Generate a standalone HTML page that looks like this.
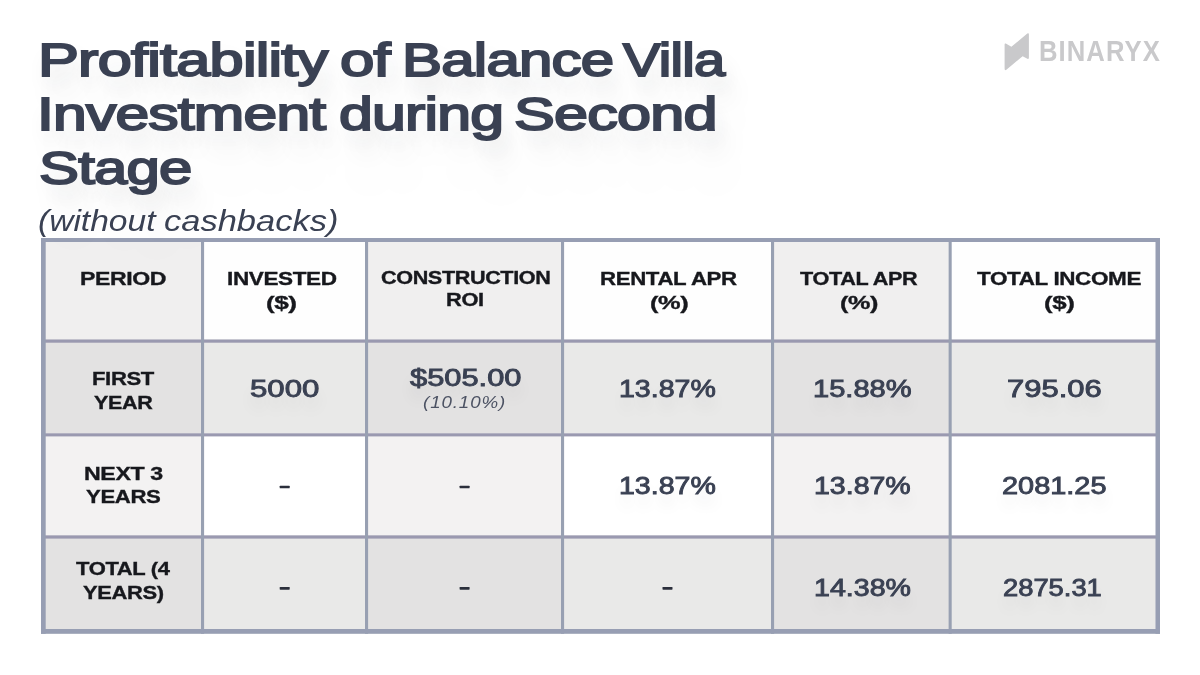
<!DOCTYPE html>
<html lang="en"><head><meta charset="utf-8">
<title>Profitability of Balance Villa Investment during Second Stage</title>
<style>
html,body{margin:0;padding:0;}
body{width:1200px;height:675px;overflow:hidden;background:#fff;position:relative;font-family:"Liberation Sans",sans-serif;}
#txt{position:absolute;left:0;top:0;width:1200px;height:675px;will-change:transform;}
#tbl{position:absolute;left:0;top:0;}
.c{position:absolute;}
.l{position:absolute;}
.t{position:absolute;white-space:nowrap;line-height:1;transform-origin:0 0;margin:0;padding:0;}
.ttl{text-shadow:4px 13px 18px rgba(40,45,60,0.10),8px 28px 24px rgba(40,45,60,0.09),10px 55px 35px rgba(40,45,60,0.055);-webkit-text-stroke:1.9px #3a4153;}
.sub{}
.hdr{-webkit-text-stroke:0.35px #17181d;}
.dat{-webkit-text-stroke:0.9px #3a4153;text-shadow:0 12px 14px rgba(40,45,60,0.09),0 50px 30px rgba(40,45,60,0.035);}
.sm{}
.logo{}
.d{position:absolute;background:#2b2f3b;height:2.7px;width:10px;border-radius:0.6px;}

</style></head>
<body>
<!-- table: cells, grid lines, outer border -->
<svg id="tbl" width="1200" height="675" viewBox="0 0 1200 675">
<rect x="41.00" y="238.00" width="163.10" height="104.70" fill="#f0efef"/>
<rect x="201.00" y="238.00" width="167.10" height="104.70" fill="#fefefe"/>
<rect x="365.00" y="238.00" width="199.10" height="104.70" fill="#f0efef"/>
<rect x="561.00" y="238.00" width="213.10" height="104.70" fill="#fefefe"/>
<rect x="771.00" y="238.00" width="180.70" height="104.70" fill="#f0efef"/>
<rect x="948.60" y="238.00" width="211.40" height="104.70" fill="#fefefe"/>
<rect x="41.00" y="339.50" width="163.10" height="96.90" fill="#e3e2e2"/>
<rect x="201.00" y="339.50" width="167.10" height="96.90" fill="#e9e9e8"/>
<rect x="365.00" y="339.50" width="199.10" height="96.90" fill="#e3e2e2"/>
<rect x="561.00" y="339.50" width="213.10" height="96.90" fill="#e9e9e8"/>
<rect x="771.00" y="339.50" width="180.70" height="96.90" fill="#e3e2e2"/>
<rect x="948.60" y="339.50" width="211.40" height="96.90" fill="#e9e9e8"/>
<rect x="41.00" y="433.30" width="163.10" height="105.30" fill="#f3f2f2"/>
<rect x="201.00" y="433.30" width="167.10" height="105.30" fill="#ffffff"/>
<rect x="365.00" y="433.30" width="199.10" height="105.30" fill="#f3f2f2"/>
<rect x="561.00" y="433.30" width="213.10" height="105.30" fill="#ffffff"/>
<rect x="771.00" y="433.30" width="180.70" height="105.30" fill="#f3f2f2"/>
<rect x="948.60" y="433.30" width="211.40" height="105.30" fill="#ffffff"/>
<rect x="41.00" y="535.40" width="163.10" height="98.35" fill="#e3e2e2"/>
<rect x="201.00" y="535.40" width="167.10" height="98.35" fill="#e9e9e8"/>
<rect x="365.00" y="535.40" width="199.10" height="98.35" fill="#e3e2e2"/>
<rect x="561.00" y="535.40" width="213.10" height="98.35" fill="#e9e9e8"/>
<rect x="771.00" y="535.40" width="180.70" height="98.35" fill="#e3e2e2"/>
<rect x="948.60" y="535.40" width="211.40" height="98.35" fill="#e9e9e8"/>
<rect x="41.00" y="339.50" width="1119.00" height="3.20" fill="#9a99b0"/>
<rect x="41.00" y="433.30" width="1119.00" height="3.10" fill="#9a99b0"/>
<rect x="41.00" y="535.40" width="1119.00" height="3.20" fill="#9a99b0"/>
<rect x="201.00" y="238.00" width="3.10" height="395.75" fill="#98a0b2"/>
<rect x="365.00" y="238.00" width="3.10" height="395.75" fill="#98a0b2"/>
<rect x="561.00" y="238.00" width="3.10" height="395.75" fill="#98a0b2"/>
<rect x="771.00" y="238.00" width="3.10" height="395.75" fill="#98a0b2"/>
<rect x="948.60" y="238.00" width="3.10" height="395.75" fill="#98a0b2"/>
<rect x="41.00" y="238.00" width="1119.00" height="4.00" fill="#979eb3"/>
<rect x="41.00" y="629.00" width="1119.00" height="4.75" fill="#979eb3"/>
<rect x="41.00" y="238.00" width="4.70" height="395.75" fill="#979eb3"/>
<rect x="1155.50" y="238.00" width="4.50" height="395.75" fill="#979eb3"/>
<!-- dashes -->
<rect x="279.70" y="485.65" width="10.00" height="2.70" rx="0.6" fill="#2b2f3b"/>
<rect x="459.60" y="485.65" width="10.00" height="2.70" rx="0.6" fill="#2b2f3b"/>
<rect x="279.70" y="586.95" width="10.00" height="2.70" rx="0.6" fill="#2b2f3b"/>
<rect x="459.60" y="586.95" width="10.00" height="2.70" rx="0.6" fill="#2b2f3b"/>
<rect x="662.50" y="586.95" width="10.00" height="2.70" rx="0.6" fill="#2b2f3b"/>
</svg>
<!-- logo -->
<svg class="c" style="left:1000px;top:28px" width="36" height="48" viewBox="1000 28 36 48"><path d="M1004.6 44.4 Q1004.6 43.2 1005.8 43.6 L1011.4 46.8 L1027.3 33.5 Q1028.9 32.6 1028.9 34.4 L1028.9 57.8 Q1028.9 59.4 1027.4 58.7 L1022.6 56.2 L1006.4 69.8 Q1004.6 70.9 1004.6 68.8 Z" fill="#c9c9cb"/></svg>
<!-- text -->
<div id="txt">
<div class="t ttl" style="left:37.91px;top:37.22px;font-size:46.4px;font-weight:normal;font-style:normal;color:#3a4153;transform:scaleX(1.3212);letter-spacing:-0.6px;">Profitability</div>
<div class="t ttl" style="left:339.89px;top:37.22px;font-size:46.4px;font-weight:normal;font-style:normal;color:#3a4153;transform:scaleX(1.3325);letter-spacing:-0.6px;">of</div>
<div class="t ttl" style="left:402.00px;top:37.22px;font-size:46.4px;font-weight:normal;font-style:normal;color:#3a4153;transform:scaleX(1.2932);letter-spacing:-0.6px;">Balance</div>
<div class="t ttl" style="left:623.26px;top:37.22px;font-size:46.4px;font-weight:normal;font-style:normal;color:#3a4153;transform:scaleX(1.2118);letter-spacing:-0.6px;">Villa</div>
<div class="t ttl" style="left:36.65px;top:90.82px;font-size:46.4px;font-weight:normal;font-style:normal;color:#3a4153;transform:scaleX(1.3054);letter-spacing:-0.6px;">Investment</div>
<div class="t ttl" style="left:338.91px;top:90.82px;font-size:46.4px;font-weight:normal;font-style:normal;color:#3a4153;transform:scaleX(1.3102);letter-spacing:-0.6px;">during</div>
<div class="t ttl" style="left:513.88px;top:90.82px;font-size:46.4px;font-weight:normal;font-style:normal;color:#3a4153;transform:scaleX(1.3182);letter-spacing:-0.6px;">Second</div>
<div class="t ttl" style="left:39.15px;top:144.92px;font-size:46.4px;font-weight:normal;font-style:normal;color:#3a4153;transform:scaleX(1.2897);letter-spacing:-0.6px;">Stage</div>
<div class="t sub" style="left:38.12px;top:207.38px;font-size:29.2px;font-weight:normal;font-style:italic;color:#3a4153;transform:scaleX(1.1495);">(without</div>
<div class="t sub" style="left:164.02px;top:207.38px;font-size:29.2px;font-weight:normal;font-style:italic;color:#3a4153;transform:scaleX(1.1819);">cashbacks)</div>
<div class="t logo" style="left:1039.06px;top:36.92px;font-size:28.8px;font-weight:bold;font-style:normal;color:#c9c9cb;transform:scaleX(0.8906);letter-spacing:1.2px;">BINARYX</div>
<div class="t hdr" style="left:79.94px;top:269.89px;font-size:18.2px;font-weight:bold;font-style:normal;color:#17181d;transform:scaleX(1.2662);letter-spacing:-0.3px;">PERIOD</div>
<div class="t hdr" style="left:226.97px;top:269.89px;font-size:18.2px;font-weight:bold;font-style:normal;color:#17181d;transform:scaleX(1.2384);letter-spacing:-0.3px;">INVESTED</div>
<div class="t hdr" style="left:266.19px;top:293.89px;font-size:18.2px;font-weight:bold;font-style:normal;color:#17181d;transform:scaleX(1.4364);letter-spacing:-0.3px;">($)</div>
<div class="t hdr" style="left:380.67px;top:269.59px;font-size:17.5px;font-weight:bold;font-style:normal;color:#17181d;transform:scaleX(1.2336);letter-spacing:-0.3px;">CONSTRUCTION</div>
<div class="t hdr" style="left:446.37px;top:291.59px;font-size:17.5px;font-weight:bold;font-style:normal;color:#17181d;transform:scaleX(1.2465);letter-spacing:-0.3px;">ROI</div>
<div class="t hdr" style="left:599.98px;top:269.69px;font-size:18.2px;font-weight:bold;font-style:normal;color:#17181d;transform:scaleX(1.2227);letter-spacing:-0.3px;">RENTAL APR</div>
<div class="t hdr" style="left:649.88px;top:293.69px;font-size:18.2px;font-weight:bold;font-style:normal;color:#17181d;transform:scaleX(1.3947);letter-spacing:-0.3px;">(%)</div>
<div class="t hdr" style="left:800.00px;top:269.69px;font-size:18.2px;font-weight:bold;font-style:normal;color:#17181d;transform:scaleX(1.1886);letter-spacing:-0.3px;">TOTAL APR</div>
<div class="t hdr" style="left:840.14px;top:293.69px;font-size:18.2px;font-weight:bold;font-style:normal;color:#17181d;transform:scaleX(1.3833);letter-spacing:-0.3px;">(%)</div>
<div class="t hdr" style="left:977.40px;top:269.69px;font-size:18.2px;font-weight:bold;font-style:normal;color:#17181d;transform:scaleX(1.2348);letter-spacing:-0.3px;">TOTAL INCOME</div>
<div class="t hdr" style="left:1043.84px;top:293.89px;font-size:18.2px;font-weight:bold;font-style:normal;color:#17181d;transform:scaleX(1.4216);letter-spacing:-0.3px;">($)</div>
<div class="t hdr" style="left:91.99px;top:369.79px;font-size:18.2px;font-weight:bold;font-style:normal;color:#17181d;transform:scaleX(1.2139);letter-spacing:-0.3px;">FIRST</div>
<div class="t hdr" style="left:94.20px;top:393.89px;font-size:18.2px;font-weight:bold;font-style:normal;color:#17181d;transform:scaleX(1.1838);letter-spacing:-0.3px;">YEAR</div>
<div class="t hdr" style="left:83.91px;top:464.59px;font-size:18.2px;font-weight:bold;font-style:normal;color:#17181d;transform:scaleX(1.2742);letter-spacing:-0.3px;">NEXT 3</div>
<div class="t hdr" style="left:86.40px;top:488.39px;font-size:18.2px;font-weight:bold;font-style:normal;color:#17181d;transform:scaleX(1.2176);letter-spacing:-0.3px;">YEARS</div>
<div class="t hdr" style="left:75.60px;top:560.09px;font-size:18.2px;font-weight:bold;font-style:normal;color:#17181d;transform:scaleX(1.2077);letter-spacing:-0.3px;">TOTAL (4</div>
<div class="t hdr" style="left:82.60px;top:584.49px;font-size:18.2px;font-weight:bold;font-style:normal;color:#17181d;transform:scaleX(1.2052);letter-spacing:-0.3px;">YEARS)</div>
<div class="t dat" style="left:250.33px;top:376.61px;font-size:24.2px;font-weight:normal;font-style:normal;color:#3a4153;transform:scaleX(1.2888);">5000</div>
<div class="t dat" style="left:409.76px;top:365.91px;font-size:24.2px;font-weight:normal;font-style:normal;color:#3a4153;transform:scaleX(1.2745);">$505.00</div>
<div class="t sm" style="left:423.26px;top:393.71px;font-size:17.0px;font-weight:normal;font-style:italic;color:#4c5263;transform:scaleX(1.1033);letter-spacing:0.8px;">(10.10%)</div>
<div class="t dat" style="left:619.26px;top:376.61px;font-size:24.2px;font-weight:normal;font-style:normal;color:#3a4153;transform:scaleX(1.1796);">13.87%</div>
<div class="t dat" style="left:812.97px;top:376.61px;font-size:24.2px;font-weight:normal;font-style:normal;color:#3a4153;transform:scaleX(1.2015);">15.88%</div>
<div class="t dat" style="left:1007.37px;top:376.81px;font-size:24.2px;font-weight:normal;font-style:normal;color:#3a4153;transform:scaleX(1.2805);">795.06</div>
<div class="t dat" style="left:619.26px;top:474.31px;font-size:24.2px;font-weight:normal;font-style:normal;color:#3a4153;transform:scaleX(1.1796);">13.87%</div>
<div class="t dat" style="left:813.66px;top:474.31px;font-size:24.2px;font-weight:normal;font-style:normal;color:#3a4153;transform:scaleX(1.1792);">13.87%</div>
<div class="t dat" style="left:1002.04px;top:474.31px;font-size:24.2px;font-weight:normal;font-style:normal;color:#3a4153;transform:scaleX(1.1954);">2081.25</div>
<div class="t dat" style="left:814.05px;top:575.81px;font-size:24.2px;font-weight:normal;font-style:normal;color:#3a4153;transform:scaleX(1.1818);">14.38%</div>
<div class="t dat" style="left:1003.19px;top:575.81px;font-size:24.2px;font-weight:normal;font-style:normal;color:#3a4153;transform:scaleX(1.1299);">2875.31</div>
</div>
</body></html>
